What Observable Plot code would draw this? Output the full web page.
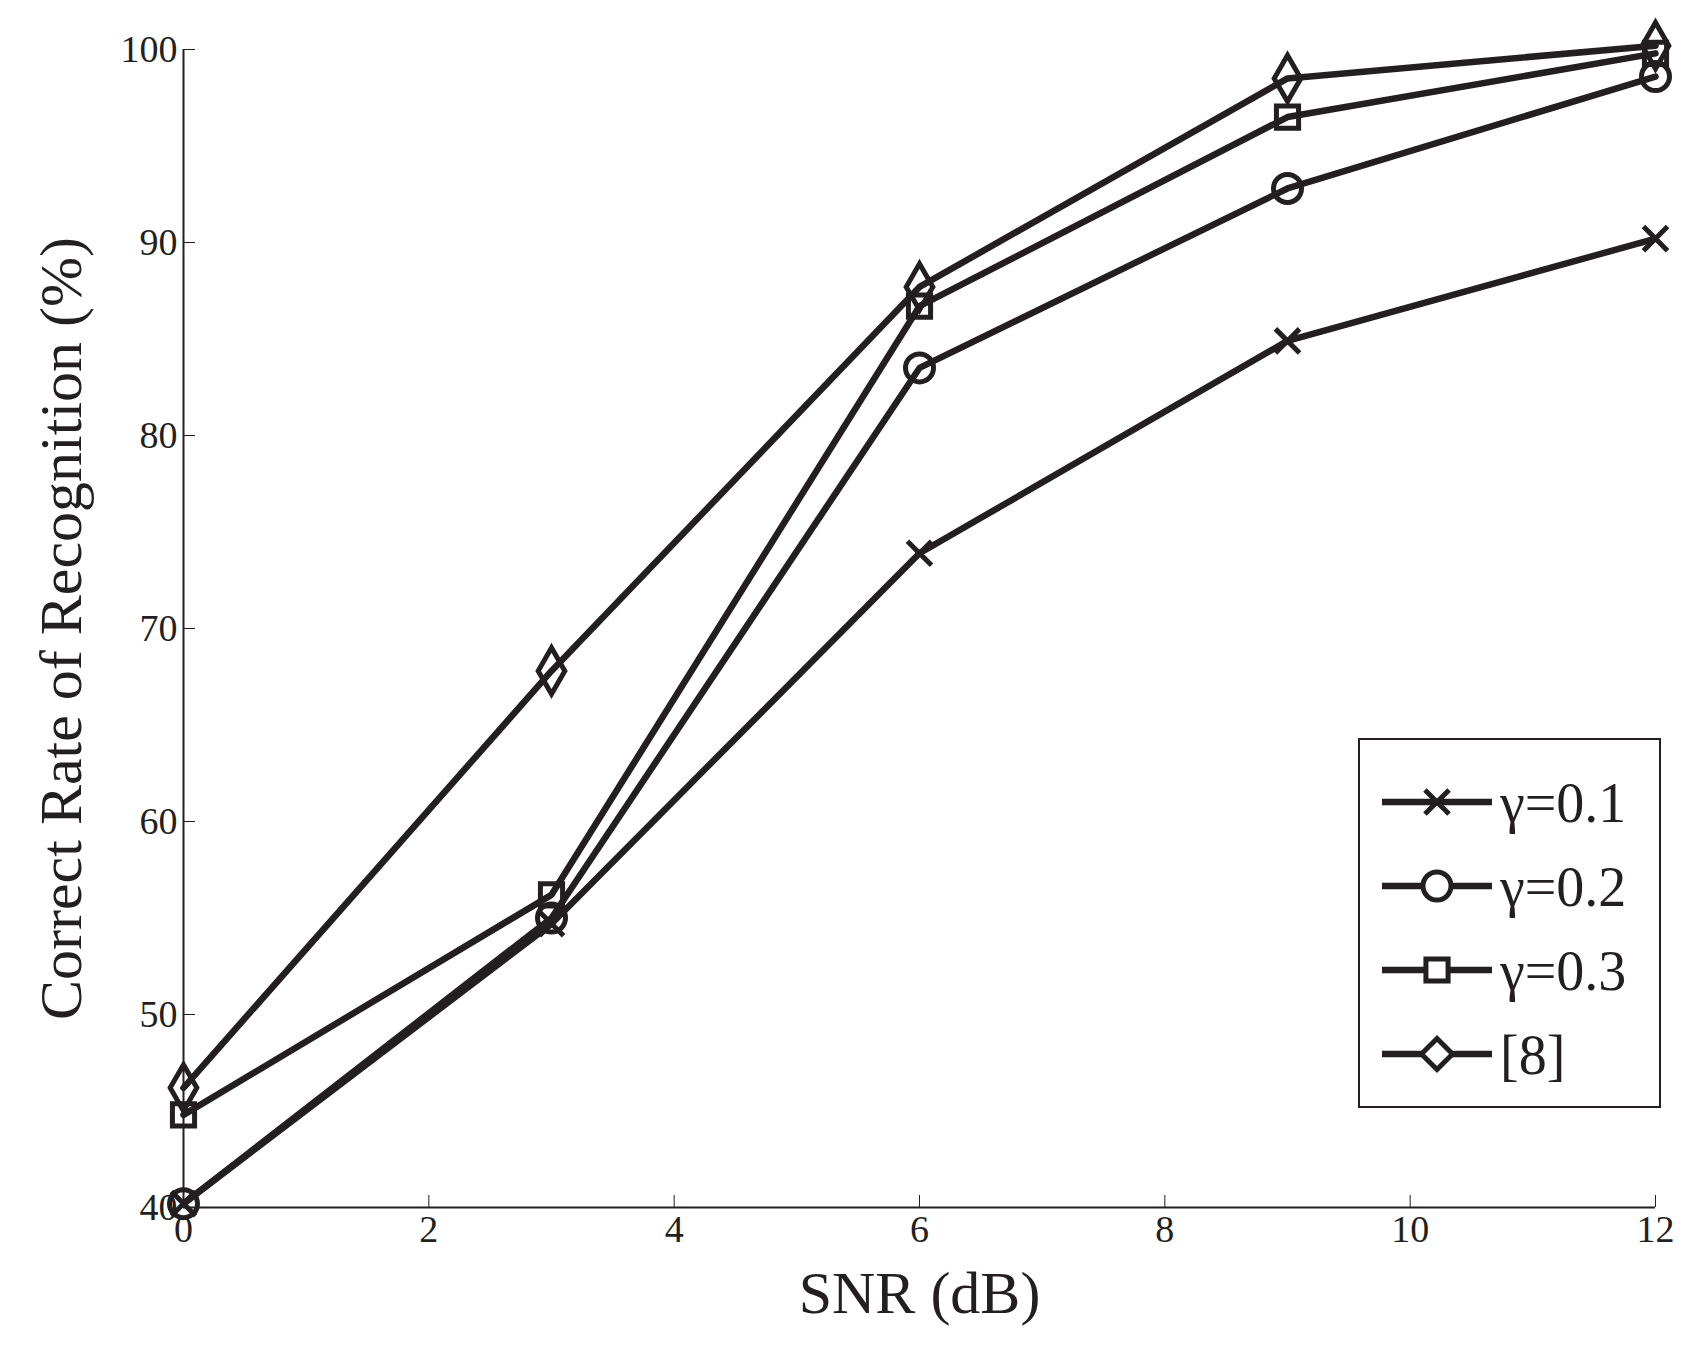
<!DOCTYPE html>
<html><head><meta charset="utf-8">
<script src="https://cdn.jsdelivr.net/npm/d3@7"></script>
<script src="https://cdn.jsdelivr.net/npm/@observablehq/plot@0.6"></script>
<style>
body{margin:0;background:#fff;font-family:"Liberation Serif",serif;color:#231f20}
#wrap{position:relative;width:1699px;height:1350px}
#legend{position:absolute;left:1358px;top:738px;width:303px;height:370px;border:2px solid #231f20;background:#fff;box-sizing:border-box}
</style></head><body>
<div id="wrap"><div id="chart"></div><div id="legend"></div></div>
<script>
const snr = [0, 3, 6, 9, 12];
const seriesNames = ["γ=0.1", "γ=0.2", "γ=0.3", "[8]"];
const symbols = ["times", "circle", "square", "diamond"];
const g01 = [40.2, 54.7, 73.9, 84.9, 90.2];
const g02 = [40.2, 55.0, 83.5, 92.8, 98.6];
const g03 = [44.8, 56.2, 86.7, 96.5, 99.8];
const ref8 = [46.2, 67.8, 87.7, 98.5, 100.2];
const xTicks = [0, 2, 4, 6, 8, 10, 12];
const yTicks = [40, 50, 60, 70, 80, 90, 100];
const C = "#231f20";
const all = [g01, g02, g03, ref8];
const data = all.flatMap((vals, i) => vals.map((v, j) => ({x: snr[j], y: v, s: seriesNames[i], sym: symbols[i]})));
const sizes = {"times": 11, "circle": 14, "square": 12.5, "diamond": 14};
const marks = [
  Plot.axisX({ticks: xTicks, tickSize: -12, tickPadding: 20, fontSize: 38, label: "SNR (dB)", labelAnchor: "center", labelArrow: "none", labelOffset: 105, stroke: C, color: C}),
  Plot.axisY({ticks: yTicks, tickSize: -12, tickPadding: 18, fontSize: 38, label: "Correct Rate of Recognition (%)", labelAnchor: "center", labelArrow: "none", labelOffset: 145, stroke: C, color: C}),
  Plot.ruleX([0], {stroke: C, strokeWidth: 2}),
  Plot.ruleY([40], {stroke: C, strokeWidth: 2}),
];
seriesNames.forEach((n, i) => {
  const d = data.filter(e => e.s === n);
  marks.push(Plot.line(d, {x: "x", y: "y", stroke: C, strokeWidth: 6.5}));
  marks.push(Plot.dot(d, {x: "x", y: "y", symbol: () => symbols[i], r: sizes[symbols[i]], stroke: C, strokeWidth: 5, fill: symbols[i]==="times" ? C : "none"}));
});
const chart = Plot.plot({
  width: 1699, height: 1350,
  marginLeft: 183, marginRight: 44, marginTop: 49, marginBottom: 143,
  x: {domain: [0, 12]}, y: {domain: [40, 100]},
  style: {fontFamily: "Liberation Serif, serif", fontSize: "38px", color: C, background: "#fff"},
  marks
});
chart.querySelectorAll("[aria-label='x-axis label'] text, [aria-label='y-axis label'] text").forEach(t => t.style.fontSize = "60px");
document.getElementById("chart").append(chart);

const lg = document.getElementById("legend");
const ns = "http://www.w3.org/2000/svg";
const svg = document.createElementNS(ns, "svg");
svg.setAttribute("width", 300); svg.setAttribute("height", 366);
seriesNames.forEach((n, i) => {
  const cy = 62 + i * 84;
  const line = document.createElementNS(ns, "line");
  line.setAttribute("x1", 22); line.setAttribute("x2", 132); line.setAttribute("y1", cy); line.setAttribute("y2", cy);
  line.setAttribute("stroke", C); line.setAttribute("stroke-width", 6.5);
  svg.append(line);
  const p = document.createElementNS(ns, "path");
  const sym = {times: d3.symbolTimes, circle: d3.symbolCircle, square: d3.symbolSquare, diamond: d3.symbolDiamond2}[symbols[i]];
  const r = sizes[symbols[i]];
  p.setAttribute("d", d3.symbol(sym, Math.PI * r * r)());
  p.setAttribute("transform", `translate(77,${cy})`);
  p.setAttribute("stroke", C); p.setAttribute("stroke-width", 5);
  p.setAttribute("fill", symbols[i]==="times" ? C : "#fff");
  svg.append(p);
  const t = document.createElementNS(ns, "text");
  t.setAttribute("x", 140); t.setAttribute("y", cy); t.setAttribute("dy", "0.35em");
  t.setAttribute("font-size", 56); t.setAttribute("fill", C);
  t.setAttribute("font-family", "Liberation Serif, serif");
  t.textContent = n;
  svg.append(t);
});
lg.append(svg);
</script></body></html>
